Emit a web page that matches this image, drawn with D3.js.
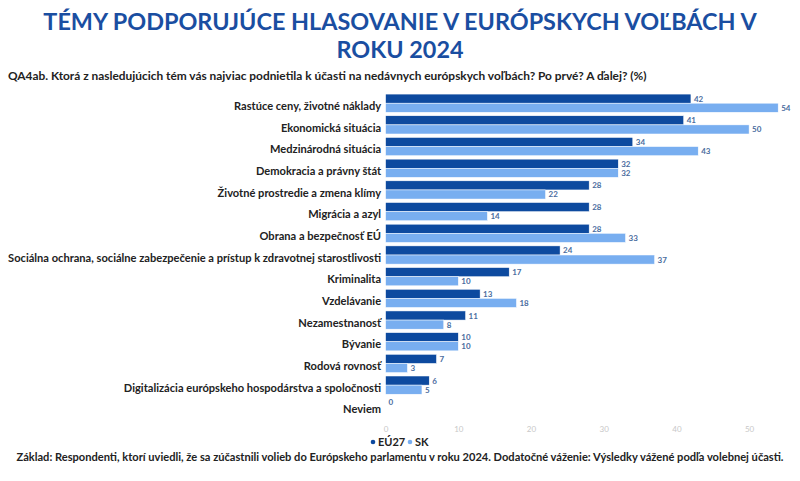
<!DOCTYPE html>
<html>
<head>
<meta charset="utf-8">
<script src="https://cdn.jsdelivr.net/npm/d3@7"></script>
<style>
html,body{margin:0;padding:0;background:#fff;}
svg{display:block;}
text{font-family:Lato,"Open Sans",sans-serif;}
</style>
</head>
<body>
<svg id="chart" width="800" height="481"></svg>
<script>
const categories = [
  "Rastúce ceny, životné náklady",
  "Ekonomická situácia",
  "Medzinárodná situácia",
  "Demokracia a právny štát",
  "Životné prostredie a zmena klímy",
  "Migrácia a azyl",
  "Obrana a bezpečnosť EÚ",
  "Sociálna ochrana, sociálne zabezpečenie a prístup k zdravotnej starostlivosti",
  "Kriminalita",
  "Vzdelávanie",
  "Nezamestnanosť",
  "Bývanie",
  "Rodová rovnosť",
  "Digitalizácia európskeho hospodárstva a spoločnosti",
  "Neviem"
];
const seriesNames = ["EÚ27", "SK"];
const eu27 = [42, 41, 34, 32, 28, 28, 28, 24, 17, 13, 11, 10, 7, 6, 0];
const sk   = [54, 50, 43, 32, 22, 14, 33, 37, 10, 18, 8, 10, 3, 5, null];
const xTicks = [0, 10, 20, 30, 40, 50];
const titleLines = ["TÉMY PODPORUJÚCE HLASOVANIE V EURÓPSKYCH VOĽBÁCH V", "ROKU 2024"];
const subtitle = "QA4ab. Ktorá z nasledujúcich tém vás najviac podnietila k účasti na nedávnych európskych voľbách? Po prvé? A ďalej? (%)";
const footnote = "Základ: Respondenti, ktorí uviedli, že sa zúčastnili volieb do Európskeho parlamentu v roku 2024. Dodatočné váženie: Výsledky vážené podľa volebnej účasti.";

const colors = {"EÚ27": "#0d4a9f", "SK": "#78aef0"};

const svg = d3.select("#chart");

// Title
svg.selectAll("text.title").data(titleLines).enter().append("text")
  .attr("class", "title")
  .attr("x", 400).attr("y", (d, i) => 30 + i * 28)
  .attr("text-anchor", "middle")
  .attr("fill", "#1a4ea1")
  .attr("font-size", 23.4).attr("font-weight", "bold")
  .text(d => d);

svg.append("text")
  .attr("x", 8).attr("y", 80)
  .attr("fill", "#222").attr("font-size", 11.9).attr("font-weight", "bold")
  .text(subtitle);

const x = d3.scaleLinear().domain([0, 55]).range([385.6, 385.6 + 7.27 * 55]);
const y0 = d3.scaleBand().domain(categories).range([93, 417]).paddingInner(0.16).paddingOuter(0.05);
const y1 = d3.scaleBand().domain(seriesNames).range([0, y0.bandwidth()]);

const rows = categories.map((c, i) => ({cat: c, vals: [
  {s: "EÚ27", v: eu27[i]}, {s: "SK", v: sk[i]}
]}));

const g = svg.append("g");
const grp = g.selectAll("g.row").data(rows).enter().append("g")
  .attr("transform", d => `translate(0,${y0(d.cat)})`);

grp.selectAll("rect").data(d => d.vals.filter(v => v.v != null)).enter().append("rect")
  .attr("x", x(0))
  .attr("y", d => y1(d.s))
  .attr("width", d => x(d.v) - x(0))
  .attr("height", y1.bandwidth())
  .attr("fill", d => colors[d.s])
  .attr("stroke", "#fff").attr("stroke-width", 0.5);

grp.selectAll("text.val").data(d => d.vals.filter(v => v.v != null)).enter().append("text")
  .attr("class", "val")
  .attr("x", d => x(d.v) + 3)
  .attr("y", d => y1(d.s) + y1.bandwidth() / 2 + 3)
  .attr("fill", "#4a6c9e").attr("font-size", 8).attr("font-weight", "bold")
  .text(d => d.v);

// Category labels
const yAxis = d3.axisLeft(y0).tickSize(0).tickPadding(4);
const yg = svg.append("g").attr("transform", `translate(${x(0) - 0.5},0)`).call(yAxis);
yg.select(".domain").remove();
yg.selectAll("text")
  .attr("font-family", "Lato, sans-serif")
  .attr("font-size", 11.1).attr("font-weight", "bold").attr("fill", "#222")
  .attr("dy", "0.6em");

// X axis
const xAxis = d3.axisBottom(x).tickValues(xTicks).tickSize(0).tickPadding(0);
const xg = svg.append("g").attr("transform", "translate(0,426)").call(xAxis);
xg.select(".domain").remove();
xg.selectAll("text").attr("font-family", "Lato, sans-serif").attr("font-size", 8).attr("fill", "#c8c8c8");

// Legend
const legend = svg.append("g");
const legItems = [{s: "EÚ27", x: 373}, {s: "SK", x: 410}];
legItems.forEach(it => {
  legend.append("circle").attr("cx", it.x).attr("cy", 442).attr("r", 2.3).attr("fill", colors[it.s]);
  legend.append("text").attr("x", it.x + 5).attr("y", 446)
    .attr("font-size", 11).attr("font-weight", "bold").attr("fill", "#222").text(it.s);
});

svg.append("text")
  .attr("x", 400).attr("y", 461)
  .attr("text-anchor", "middle")
  .attr("fill", "#222").attr("font-size", 11.1).attr("font-weight", "bold")
  .text(footnote);
</script>
</body>
</html>
